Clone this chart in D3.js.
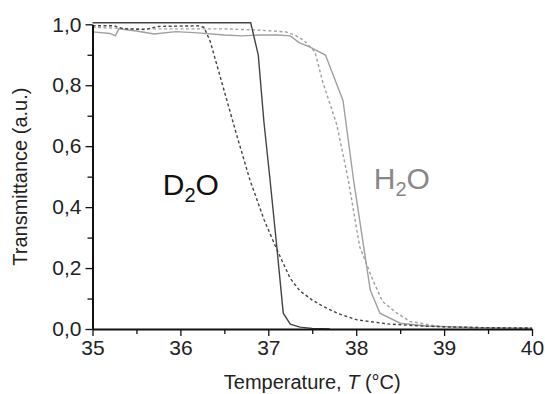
<!DOCTYPE html>
<html>
<head>
<meta charset="utf-8">
<script src="https://cdn.jsdelivr.net/npm/d3@7"></script>
<style>
  body { margin: 0; background: #fff; }
  text { font-family: Arial, "Liberation Sans", sans-serif; }
</style>
</head>
<body>
<div id="chart"></div>
<script>
// temperatures (°C) and transmittance
var d2oSolidT = [35, 36.8, 36.886, 36.95, 37.02, 37.1, 37.17, 37.25, 37.36, 37.5, 37.7];
var d2oSolidV = [1.005, 1.005, 0.899, 0.68, 0.489, 0.26, 0.052, 0.016, 0.006, 0.002, 0.0];

var d2oDashT = [35, 35.25, 35.35, 35.6, 35.75, 36.2, 36.27, 36.34, 36.49, 36.64, 36.79, 36.95, 37.1, 37.25, 37.36, 37.5, 37.63, 37.8, 38.01, 38.38, 38.8, 39.3, 40];
var d2oDashV = [0.995, 0.995, 0.985, 0.983, 0.993, 0.995, 0.99, 0.943, 0.79, 0.637, 0.49, 0.36, 0.259, 0.166, 0.125, 0.095, 0.073, 0.05, 0.03, 0.016, 0.009, 0.005, 0.003];

var h2oSolidT = [35, 35.2, 35.26, 35.3, 35.5, 35.7, 35.95, 36.2, 36.5, 36.7, 36.9, 37.1, 37.25, 37.35, 37.47, 37.65, 37.85, 37.97, 38.16, 38.27, 38.5, 38.8, 39.3, 40];
var h2oSolidV = [0.975, 0.97, 0.962, 0.985, 0.978, 0.968, 0.976, 0.972, 0.965, 0.962, 0.965, 0.965, 0.962, 0.94, 0.926, 0.899, 0.75, 0.489, 0.128, 0.052, 0.019, 0.01, 0.005, 0.003];

var h2oDashT = [35, 35.5, 36, 36.5, 36.8, 37.0, 37.2, 37.3, 37.4, 37.53, 37.62, 37.78, 37.91, 38.04, 38.19, 38.3, 38.45, 38.61, 38.95, 39.5, 40];
var h2oDashV = [0.99, 0.985, 0.985, 0.985, 0.982, 0.979, 0.975, 0.965, 0.948, 0.91, 0.81, 0.67, 0.489, 0.27, 0.16, 0.09, 0.055, 0.025, 0.008, 0.004, 0.002];

var xTicks = [35, 36, 37, 38, 39, 40];
var yTicks = [0, 0.2, 0.4, 0.6, 0.8, 1.0];

function zip(ts, vs) {
    return ts.map(function(t, i) { return { t: t, v: vs[i] }; });
}

var margin = { top: 24.3, right: 13, bottom: 65, left: 92.5 };
var width = 545 - margin.left - margin.right,
    height = 394 - margin.top - margin.bottom;

var svg = d3.select("#chart").append("svg")
    .attr("width", 545)
    .attr("height", 394)
    .append("g")
    .attr("transform", "translate(" + margin.left + "," + margin.top + ")");

var x = d3.scaleLinear().domain([35, 40]).range([0, width]);
var y = d3.scaleLinear().domain([0, 1]).range([height, 0]);

var line = d3.line()
    .x(function(d) { return x(d.t); })
    .y(function(d) { return y(d.v); });

var series = [
    { data: zip(h2oDashT, h2oDashV), color: "#a0a0a0", dash: "3,2.5" },
    { data: zip(h2oSolidT, h2oSolidV), color: "#a0a0a0", dash: null },
    { data: zip(d2oDashT, d2oDashV), color: "#444", dash: "3,2.5" },
    { data: zip(d2oSolidT, d2oSolidV), color: "#444", dash: null }
];

series.forEach(function(s) {
    svg.append("path")
        .datum(s.data)
        .attr("fill", "none")
        .attr("stroke", s.color)
        .attr("stroke-width", 1.4)
        .attr("stroke-dasharray", s.dash)
        .attr("d", line);
});

// minor ticks
var xMinor = d3.range(35.5, 40, 1);
var yMinor = d3.range(0.1, 1, 0.2);

svg.append("g")
    .attr("transform", "translate(0," + height + ")")
    .call(d3.axisBottom(x).tickValues(xMinor).tickSize(5).tickFormat(""))
    .call(function(g) { g.select(".domain").remove(); });

svg.append("g")
    .call(d3.axisLeft(y).tickValues(yMinor).tickSize(5).tickFormat(""))
    .call(function(g) { g.select(".domain").remove(); });

var xAxis = svg.append("g")
    .attr("transform", "translate(0," + height + ")")
    .call(d3.axisBottom(x).tickValues(xTicks).tickSize(7).tickSizeOuter(0).tickPadding(4)
        .tickFormat(d3.format("d")));

var yAxis = svg.append("g")
    .call(d3.axisLeft(y).tickValues(yTicks).tickSize(7).tickSizeOuter(0).tickPadding(4)
        .tickFormat(function(d) { return d3.format(".1f")(d).replace(".", ","); }));

svg.selectAll(".tick line").attr("stroke", "#111").attr("stroke-width", 1.3);
[xAxis, yAxis].forEach(function(a) {
    a.select(".domain").attr("stroke", "#111").attr("stroke-width", 2);
    a.selectAll("text").attr("font-size", 21).attr("fill", "#222");
});

// axis titles
var xt = svg.append("text")
    .attr("x", width / 2)
    .attr("y", height + 60)
    .attr("text-anchor", "middle")
    .attr("font-size", 20)
    .attr("fill", "#222");
xt.append("tspan").text("Temperature, ");
xt.append("tspan").attr("font-style", "italic").text("T");
xt.append("tspan").text(" (°C)");

svg.append("text")
    .attr("transform", "translate(" + (-66) + "," + (height / 2) + ") rotate(-90)")
    .attr("text-anchor", "middle")
    .attr("font-size", 20)
    .attr("fill", "#222")
    .text("Transmittance (a.u.)");

// curve labels
function label(txt1, sub, txt2, t, v, color) {
    var el = svg.append("text")
        .attr("x", x(t))
        .attr("y", y(v))
        .attr("font-size", 30)
        .attr("fill", color);
    el.append("tspan").text(txt1);
    el.append("tspan").attr("font-size", 20).attr("dy", 7).text(sub);
    el.append("tspan").attr("dy", -7).text(txt2);
}
label("D", "2", "O", 35.8, 0.44, "#111");
label("H", "2", "O", 38.2, 0.46, "#888");
</script>
</body>
</html>
